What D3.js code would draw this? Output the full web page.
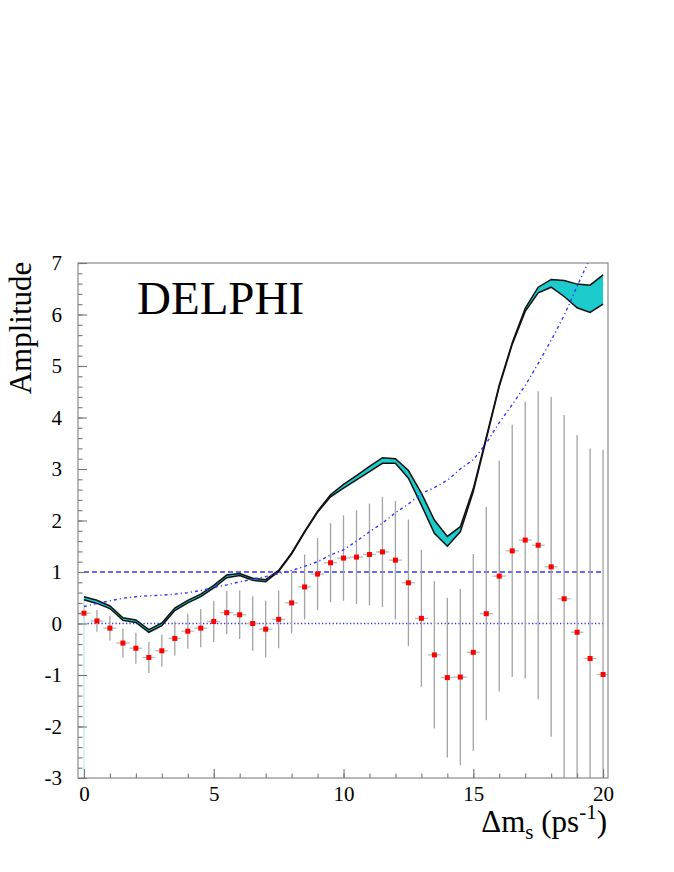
<!DOCTYPE html>
<html>
<head>
<meta charset="utf-8">
<script src="https://cdn.jsdelivr.net/npm/d3@7"></script>
<style>
  body { margin: 0; background: #fff; }
  text { font-family: "Liberation Serif", "Times New Roman", Times, serif; }
</style>
</head>
<body>
<div id="chart"></div>
<script>
// oscillation frequency points (ps^-1)
const dm = [0,0.5,1,1.5,2,2.5,3,3.5,4,4.5,5,5.5,6,6.5,7,7.5,8,8.5,9,9.5,10,
            10.5,11,11.5,12,12.5,13,13.5,14,14.5,15,15.5,16,16.5,17,17.5,18,18.5,19,19.5,20];

// measured amplitude and its error
const amplitude = [0.20,0.05,-0.09,-0.38,-0.48,-0.66,-0.53,-0.29,-0.15,-0.09,0.04,0.21,0.17,0.00,-0.11,0.08,
                   0.40,0.71,0.96,1.18,1.27,1.29,1.34,1.39,1.23,0.79,0.10,-0.61,-1.05,-1.04,-0.56,0.19,
                   0.92,1.41,1.62,1.52,1.10,0.48,-0.17,-0.68,-0.99];
const ampErr = [0.22,0.21,0.24,0.28,0.30,0.30,0.31,0.33,0.34,0.37,0.40,0.42,0.47,0.53,0.55,0.56,
                0.59,0.63,0.70,0.77,0.83,0.91,0.99,1.07,1.15,1.23,1.33,1.43,1.55,1.71,1.91,2.07,
                2.24,2.45,2.69,2.99,3.30,3.57,3.83,4.08,4.37];

// A + 1.645 sigma band (stat. and syst.)
const bandHigh = [0.52,0.45,0.34,0.11,0.07,-0.12,0.01,0.30,0.45,0.57,0.74,0.94,0.97,0.88,0.85,1.03,
                  1.37,1.79,2.18,2.50,2.70,2.87,3.05,3.22,3.20,2.97,2.53,2.01,1.69,1.88,2.62,3.62,
                  4.63,5.45,6.12,6.53,6.68,6.66,6.59,6.57,6.77];
const bandLow  = [0.46,0.39,0.29,0.06,0.02,-0.17,-0.04,0.25,0.40,0.52,0.69,0.89,0.93,0.84,0.81,1.01,
                  1.35,1.77,2.16,2.46,2.63,2.79,2.95,3.11,3.11,2.82,2.30,1.75,1.50,1.78,2.56,3.58,
                  4.60,5.42,6.06,6.42,6.53,6.35,6.13,6.04,6.20];

// sensitivity curve (1.645 sigma)
const sensDm = [0,0.5,1,1.5,2,2.5,3,3.5,4,4.5,5,5.5,6,6.5,7,7.5,8,8.5,9,9.5,10,
                10.5,11,11.5,12,12.5,13,13.5,14,14.5,15,15.5,16,16.5,17,17.5,18,18.5,19,19.5];
const sensitivity = [0.33,0.39,0.44,0.49,0.52,0.54,0.55,0.57,0.60,0.64,0.70,0.75,0.81,0.86,0.91,0.97,
                     1.03,1.11,1.20,1.33,1.43,1.60,1.78,1.95,2.15,2.32,2.52,2.64,2.78,3.00,3.18,3.50,
                     3.90,4.25,4.62,5.05,5.50,5.98,6.55,7.10];

const xMajor = [0,5,10,15,20];
const yMajor = [-3,-2,-1,0,1,2,3,4,5,6,7];

const width = 674, height = 872;
const plotLeft = 78, plotRight = 608, plotTop = 263, plotBottom = 778;

const svg = d3.select("#chart").append("svg")
    .attr("width", width)
    .attr("height", height);

const x = d3.scaleLinear().domain([-0.23, 20.19]).range([plotLeft, plotRight]);
const y = d3.scaleLinear().domain([-3, 7]).range([plotBottom, plotTop]);

svg.append("defs").append("clipPath").attr("id", "plot-clip")
  .append("rect")
    .attr("x", plotLeft).attr("y", plotTop)
    .attr("width", plotRight - plotLeft).attr("height", plotBottom - plotTop);

const plot = svg.append("g").attr("clip-path", "url(#plot-clip)");

const blue = "#3535ff";

// reference lines at 1 and 0
plot.append("line")
    .attr("x1", x(0)).attr("x2", x(20))
    .attr("y1", y(1)).attr("y2", y(1))
    .attr("stroke", blue).attr("stroke-width", 1.4)
    .attr("stroke-dasharray", "5,3");

plot.append("line")
    .attr("x1", x(0)).attr("x2", x(20))
    .attr("y1", y(0)).attr("y2", y(0))
    .attr("stroke", blue).attr("stroke-width", 1.3)
    .attr("stroke-dasharray", "1.3,2.2");

// error bars
const pts = dm.map((d, i) => ({dm: d, a: amplitude[i], e: ampErr[i]}));

plot.selectAll(".vbar")
  .data(pts)
  .join("line")
    .attr("class", "vbar")
    .attr("x1", d => x(d.dm)).attr("x2", d => x(d.dm))
    .attr("y1", d => y(d.a + d.e)).attr("y2", d => y(d.a - d.e))
    .attr("stroke", "#a3a3a3").attr("stroke-width", 1.3);

plot.selectAll(".hbar")
  .data(pts)
  .join("line")
    .attr("class", "hbar")
    .attr("x1", d => x(d.dm - 0.25)).attr("x2", d => x(d.dm + 0.25))
    .attr("y1", d => y(d.a)).attr("y2", d => y(d.a))
    .attr("stroke", "#bbbbbb").attr("stroke-width", 1.3);

// light line at the first bin
plot.append("line")
    .attr("x1", x(0)).attr("x2", x(0))
    .attr("y1", y(0.5)).attr("y2", y(-3))
    .attr("stroke", "#c9f1f1").attr("stroke-width", 1.6);

// band
const band = dm.map((d, i) => ({dm: d, hi: bandHigh[i], lo: bandLow[i]}));

plot.append("path")
    .datum(band)
    .attr("fill", "#1ccbcb")
    .attr("d", d3.area().x(d => x(d.dm)).y0(d => y(d.lo)).y1(d => y(d.hi)));

plot.append("path")
    .datum(band)
    .attr("fill", "none").attr("stroke", "#111").attr("stroke-width", 1.5)
    .attr("d", d3.line().x(d => x(d.dm)).y(d => y(d.hi)));

plot.append("path")
    .datum(band)
    .attr("fill", "none").attr("stroke", "#111").attr("stroke-width", 1.5)
    .attr("d", d3.line().x(d => x(d.dm)).y(d => y(d.lo)));

// sensitivity
plot.append("path")
    .datum(sensDm.map((d, i) => [d, sensitivity[i]]))
    .attr("fill", "none").attr("stroke", blue).attr("stroke-width", 1.4)
    .attr("stroke-dasharray", "3,3,1.2,3")
    .attr("d", d3.line().x(d => x(d[0])).y(d => y(d[1])));

// markers
plot.selectAll(".pt")
  .data(pts)
  .join("rect")
    .attr("class", "pt")
    .attr("x", d => x(d.dm) - 2.5).attr("y", d => y(d.a) - 2.5)
    .attr("width", 5).attr("height", 5)
    .attr("fill", "#ff0000");

// frame
svg.append("rect")
    .attr("x", plotLeft).attr("y", plotTop)
    .attr("width", plotRight - plotLeft).attr("height", plotBottom - plotTop)
    .attr("fill", "none").attr("stroke", "#8a8a8a").attr("stroke-width", 1.2);

// axes
const tickColor = "#777";
const fmt = d => String(d);

svg.append("g").attr("transform", `translate(0,${plotBottom})`)
    .call(d3.axisBottom(x).tickValues(xMajor).tickSize(-9).tickPadding(8).tickFormat(fmt));
svg.append("g").attr("transform", `translate(0,${plotBottom})`)
    .call(d3.axisBottom(x).tickValues(d3.range(0, 21, 1)).tickSize(-4.5).tickFormat(""));

svg.append("g").attr("transform", `translate(${plotLeft},0)`)
    .call(d3.axisLeft(y).tickValues(yMajor).tickSize(-9).tickPadding(16).tickFormat(fmt));
svg.append("g").attr("transform", `translate(${plotLeft},0)`)
    .call(d3.axisLeft(y).tickValues(d3.range(-3, 7.01, 0.2)).tickSize(-4.5).tickFormat(""));

svg.selectAll(".domain").remove();
svg.selectAll(".tick line").attr("stroke", tickColor).attr("stroke-width", 1.1);
svg.selectAll(".tick text")
    .attr("fill", "#000")
    .style("font-family", "'Liberation Serif', 'Times New Roman', serif")
    .style("font-size", "21px");

// labels
svg.append("text")
    .attr("x", 137).attr("y", 314)
    .style("font-size", "47px")
    .text("DELPHI");

svg.append("text")
    .attr("transform", "translate(31,328) rotate(-90)")
    .attr("text-anchor", "middle")
    .style("font-size", "31px")
    .text("Amplitude");

const xt = svg.append("text")
    .attr("x", 607).attr("y", 832)
    .attr("text-anchor", "end")
    .style("font-size", "31px");
xt.append("tspan").text("Δm");
xt.append("tspan").attr("dy", 7).style("font-size", "21px").text("s");
xt.append("tspan").attr("dy", -7).text(" (ps");
xt.append("tspan").attr("dy", -13).style("font-size", "21px").text("-1");
xt.append("tspan").attr("dy", 13).text(")");
</script>
</body>
</html>
